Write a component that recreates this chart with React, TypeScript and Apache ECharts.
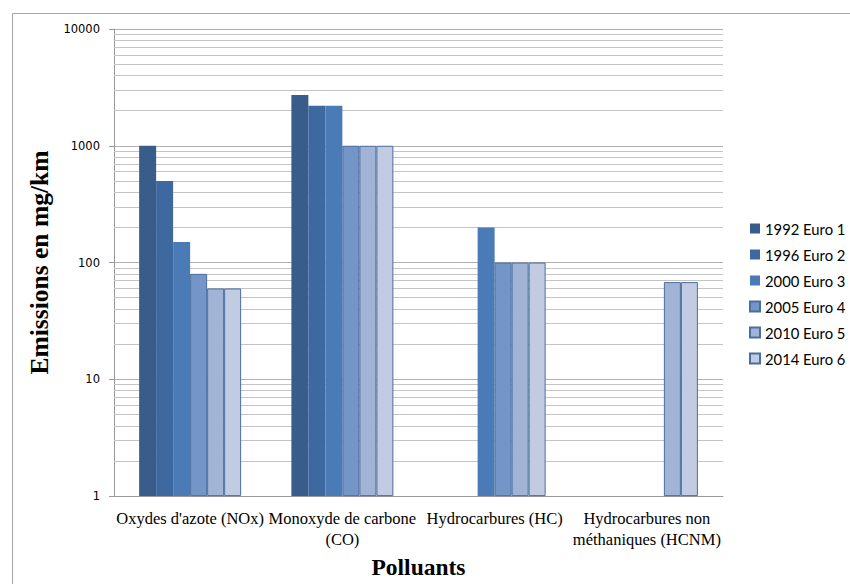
import React, { useEffect, useRef } from "react";
import * as echarts from "echarts";

const categories = [
  "Oxydes d'azote (NOx)",
  "Monoxyde de carbone\n(CO)",
  "Hydrocarbures (HC)",
  "Hydrocarbures non\nméthaniques (HCNM)",
];
const seriesNames = ["1992 Euro 1", "1996 Euro 2", "2000 Euro 3", "2005 Euro 4", "2010 Euro 5", "2014 Euro 6"];
const euro1 = [1000, 2720, null, null];
const euro2 = [500, 2200, null, null];
const euro3 = [150, 2200, 200, null];
const euro4 = [80, 1000, 100, null];
const euro5 = [60, 1000, 100, 68];
const euro6 = [60, 1000, 100, 68];
const seriesValues = [euro1, euro2, euro3, euro4, euro5, euro6];
const majorTicks = [1, 10, 100, 1000, 10000];
const colors = ["#385D8A", "#3D69A0", "#4A7BB7", "#7495C7", "#A2B4D6", "#C1CCE2"];

export default function App() {
  const ref = useRef<HTMLDivElement>(null);
  useEffect(() => {
    if (!ref.current) return;
    const chart = echarts.init(ref.current, null, { renderer: "svg" });
    const minorLines: { yAxis: number }[] = [];
    for (let i = 0; i < majorTicks.length - 1; i++) {
      for (let m = 2; m <= 9; m++) minorLines.push({ yAxis: majorTicks[i] * m });
    }
    const series: any[] = seriesValues.map((vals, i) => ({
      name: seriesNames[i],
      type: "bar",
      data: vals.map((v) => (v == null ? "-" : v)),
      barWidth: 17,
      barGap: "0%",
      barCategoryGap: "33%",
      itemStyle: {
        color: colors[i],
        borderColor: i < 3 ? colors[i] : "#4A6E9E",
        borderWidth: i < 3 ? 0 : 1,
      },
      z: 3,
      ...(i === 0
        ? {
            markLine: {
              silent: true,
              symbol: "none",
              label: { show: false },
              lineStyle: { color: "#C4C4C4", width: 1, type: "solid" },
              data: minorLines,
              z: 1,
            },
          }
        : {}),
    }));
    chart.setOption({
      animation: false,
      backgroundColor: "#ffffff",
      graphic: [
        {
          type: "rect",
          shape: { x: 12.5, y: 13.5, width: 900, height: 700 },
          style: { fill: "none", stroke: "#A6A6A6", lineWidth: 1 },
          silent: true,
        },
      ],
      grid: { left: 114, right: 127, top: 29, bottom: 87 },
      legend: {
        orient: "vertical",
        left: 744,
        top: 216,
        itemWidth: 10,
        itemHeight: 10,
        itemGap: 11,
        icon: "rect",
        textStyle: { fontFamily: "Lato", fontSize: 14.8, color: "#000" },
        data: seriesNames,
      },
      xAxis: {
        type: "category",
        data: categories,
        axisLine: { lineStyle: { color: "#999999" } },
        axisTick: { show: false },
        axisLabel: {
          fontFamily: "Liberation Serif",
          fontSize: 16.5,
          color: "#000",
          margin: 12,
          lineHeight: 21,
          interval: 0,
        },
        name: "Polluants",
        nameLocation: "middle",
        nameGap: 55,
        nameTextStyle: {
          fontFamily: "Liberation Serif",
          fontWeight: "bold",
          fontSize: 23.5,
          color: "#000",
        },
      },
      yAxis: {
        type: "log",
        logBase: 10,
        min: 1,
        max: 10000,
        axisLine: { show: true, lineStyle: { color: "#999999" } },
        axisTick: { show: true, length: 5, lineStyle: { color: "#999999" } },
        axisLabel: {
          fontFamily: "DejaVu Sans",
          fontSize: 11.5,
          color: "#000",
          margin: 14,
          formatter: (v: number) => String(Math.round(v)),
        },
        splitLine: { show: true, lineStyle: { color: "#B0B0B0", width: 1 } },
        name: "Emissions en mg/km",
        nameLocation: "middle",
        nameGap: 46,
        nameTextStyle: {
          fontFamily: "Liberation Serif",
          fontWeight: "bold",
          fontSize: 25.5,
          color: "#000",
        },
      },
      series,
    });
    return () => chart.dispose();
  }, []);
  return (
    <div
      ref={ref}
      style={{ position: "fixed", left: 0, top: 0, width: 850, height: 584 }}
    />
  );
}
